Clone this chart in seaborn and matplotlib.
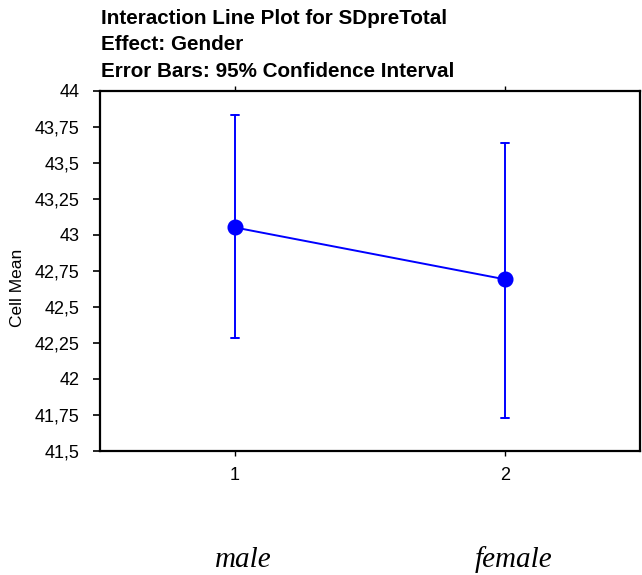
import matplotlib
matplotlib.use("Agg")
import matplotlib.pyplot as plt
import matplotlib.transforms as mtransforms
from matplotlib.ticker import FixedLocator, FixedFormatter
import pandas as pd
import seaborn as sns

# Cell summaries for SDpreTotal by Gender: mean with 95% CI bounds
gender_codes = ["1", "2"]
gender_names = ["male", "female"]
cell_mean = [43.05, 42.69]
ci_low = [42.28, 41.73]
ci_high = [43.83, 43.64]

y_ticks = [41.5, 41.75, 42.0, 42.25, 42.5, 42.75, 43.0, 43.25, 43.5, 43.75, 44.0]
y_tick_labels = ["41,5", "41,75", "42", "42,25", "42,5", "42,75", "43",
                 "43,25", "43,5", "43,75", "44"]

# Long table: each cell holds its lower bound, mean and upper bound, so the
# median is the mean and the min/max span is the confidence interval.
rows = []
for code, lo, m, hi in zip(gender_codes, ci_low, cell_mean, ci_high):
    for v in (lo, m, hi):
        rows.append({"Gender": code, "SDpreTotal": v})
df = pd.DataFrame(rows)

sns.set_style("ticks")
plt.rcParams["font.family"] = ["Liberation Sans", "DejaVu Sans"]
plt.rcParams["text.color"] = "black"
plt.rcParams["axes.labelcolor"] = "black"

fig = plt.figure(figsize=(6.42, 5.75), dpi=100)
ax = fig.add_axes([0.1558, 0.2162, 0.9969 - 0.1558, 0.8423 - 0.2162])

blue = "#0000FF"
sns.pointplot(
    data=df, x="Gender", y="SDpreTotal", order=gender_codes,
    estimator="median", errorbar=lambda v: (v.min(), v.max()),
    color=blue, markers="o", markersize=10.5, linewidth=1.4,
    capsize=0.03, err_kws={"linewidth": 1.4}, ax=ax,
)

ax.set_xlim(-0.5, 1.5)
ax.set_ylim(41.5, 44.0)
ax.yaxis.set_major_locator(FixedLocator(y_ticks))
ax.yaxis.set_major_formatter(FixedFormatter(y_tick_labels))

for side in ("left", "right", "top", "bottom"):
    ax.spines[side].set_visible(True)
    ax.spines[side].set_linewidth(1.6)
    ax.spines[side].set_color("black")

ax.tick_params(axis="y", direction="out", length=5, width=1.2,
               labelsize=13, pad=10, colors="black")
ax.tick_params(axis="x", direction="out", length=3.6, width=1.0, top=True,
               labeltop=False, labelsize=13, pad=8, colors="black")

ax.set_xlabel("")
ax.set_ylabel("Cell Mean", fontsize=12.5, labelpad=0)
ax.yaxis.set_label_coords(25 / 642, 0.5, transform=fig.transFigure)

title_lines = ["Interaction Line Plot for SDpreTotal",
               "Effect: Gender",
               "Error Bars: 95% Confidence Interval"]
baselines = [24, 50.5, 77]
for line, yb in zip(title_lines, baselines):
    fig.text(101 / 642, 1 - yb / 575, line, fontsize=14.9,
             fontweight="bold", ha="left", va="baseline", color="black")

# Category names under the axis
trans = mtransforms.blended_transform_factory(ax.transData, fig.transFigure)
for i, name in enumerate(gender_names):
    ax.text(i + 0.03, 1 - 560 / 575, name, transform=trans, ha="center",
            va="center", fontsize=21, style="italic",
            family=["Liberation Serif", "DejaVu Serif"], clip_on=False)

fig.savefig("out.png", dpi=100)
